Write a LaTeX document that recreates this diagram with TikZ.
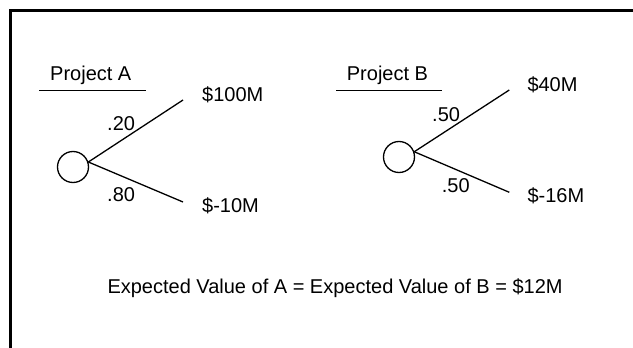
\documentclass[tikz,border=0pt]{standalone}
\usepackage{fontspec}
\setmainfont{Liberation Sans}
\begin{document}
\begin{tikzpicture}[x=1pt,y=-1pt,
  txt/.style={anchor=base west,inner sep=0pt,font=\fontsize{20}{24}\selectfont},
  chance/.style={draw,circle,line width=1.3pt,minimum size=31pt,inner sep=0pt},
  branch/.style={line width=1.3pt},
  uline/.style={line width=1.3pt},
  frame/.style={line width=3pt}]
\useasboundingbox (0,0) rectangle (633,348);
% frame
\coordinate (ftr) at (633,10.8);
\coordinate (ftl) at (10.8,10.8);
\coordinate (fbl) at (10.8,348);
\draw[frame] (ftr) -- (ftl) -- (fbl);
% Project A
\node[txt] (pa) at (50,81) {Project A};
\coordinate (ua1) at (39,90.3);
\coordinate (ua2) at (146,90.3);
\draw[uline] (ua1) -- (ua2);
\node[chance] (ca) at (73,167) {};
\coordinate (ahi) at (183,100);
\coordinate (alo) at (183,202);
\draw[branch] (ca.18) -- (ahi);
\draw[branch] (ca.18) -- (alo);
\node[txt] (pa1) at (107,130.7) {.20};
\node[txt] (pa2) at (107,201.7) {.80};
\node[txt] (va1) at (202,101.7) {\$100M};
\node[txt] (va2) at (202,212.7) {\$-10M};
% Project B
\node[txt] (pb) at (346.7,81) {Project B};
\coordinate (ub1) at (336,90.3);
\coordinate (ub2) at (441.7,90.3);
\draw[uline] (ub1) -- (ub2);
\node[chance] (cb) at (399,157) {};
\coordinate (bhi) at (509.3,90);
\coordinate (blo) at (509.3,192.3);
\draw[branch] (cb.19) -- (bhi);
\draw[branch] (cb.19) -- (blo);
\node[txt] (pb1) at (432,121.7) {.50};
\node[txt] (pb2) at (441.7,192.3) {.50};
\node[txt] (vb1) at (527.3,91.7) {\$40M};
\node[txt] (vb2) at (527.3,202.3) {\$-16M};
% expected value
\node[txt] (ev) at (107.3,293.3) {Expected Value of A = Expected Value of B = \$12M};
\end{tikzpicture}
\end{document}
